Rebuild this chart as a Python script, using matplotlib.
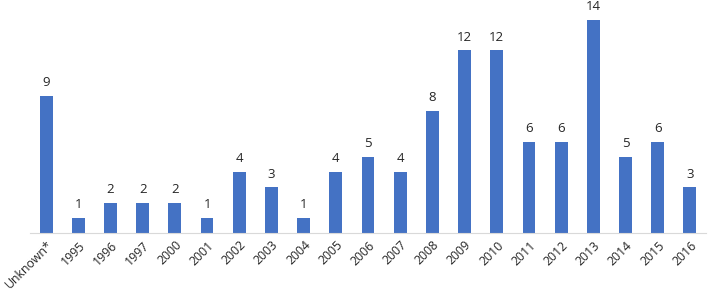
import matplotlib
matplotlib.use("Agg")
import matplotlib.pyplot as plt

categories = ["Unknown*", "1995", "1996", "1997", "2000", "2001", "2002", "2003",
              "2004", "2005", "2006", "2007", "2008", "2009", "2010", "2011",
              "2012", "2013", "2014", "2015", "2016"]
counts = [9, 1, 2, 2, 2, 1, 4, 3, 1, 4, 5, 4, 8, 12, 12, 6, 6, 14, 5, 6, 3]

plt.rcParams['font.family'] = ['Open Sans', 'DejaVu Sans']

fig = plt.figure(figsize=(7.08, 2.9), dpi=100)
ax = fig.add_axes([30/708, 57/290, 676/708, 233/290])

x = range(len(categories))
bars = ax.bar(x, counts, width=0.4, color='#4472C4')
for xi, v in zip(x, counts):
    ax.text(xi, v + 0.45, str(v), ha='center', va='bottom', fontsize=9.5,
            color='#262626')

ax.set_xlim(-0.5, len(categories) - 0.5)
ax.set_ylim(0, 15.32)
ax.set_xticks(list(x))
ax.set_xticklabels(categories, rotation=45, ha='right', rotation_mode='anchor',
                   fontsize=8.8, color='#262626')
ax.tick_params(axis='x', length=0, pad=4)
ax.set_yticks([])
for s in ['top', 'right', 'left']:
    ax.spines[s].set_visible(False)
ax.spines['bottom'].set_color('#D9D9D9')

fig.savefig('out.png', dpi=100)
